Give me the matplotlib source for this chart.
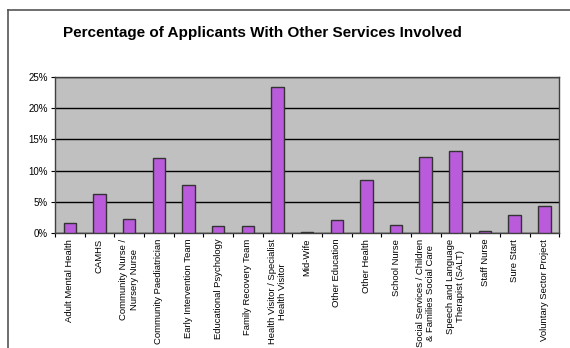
import numpy as np
import matplotlib
matplotlib.use('Agg')
import matplotlib.pyplot as plt
from matplotlib.lines import Line2D
from matplotlib.ticker import FuncFormatter, MultipleLocator

plt.rcParams['font.family'] = ['Liberation Sans', 'DejaVu Sans']

# services and share of applicants (%)
services = [
    'Adult Mental Health',
    'CAMHS',
    'Community Nurse /\nNursery Nurse',
    'Community Paediatrician',
    'Early Intervention Team',
    'Educational Psychology',
    'Family Recovery Team',
    'Health Visitor / Specialist\nHealth Visitor',
    'Mid-Wife',
    'Other Education',
    'Other Health',
    'School Nurse',
    'Social Services / Children\n& Families Social Care',
    'Speech and Language\nTherapist (SALT)',
    'Staff Nurse',
    'Sure Start',
    'Voluntary Sector Project',
]
percent = [1.6, 6.3, 2.3, 12.0, 7.7, 1.2, 1.2, 23.3, 0.15,
           2.1, 8.5, 1.3, 12.2, 13.1, 0.3, 2.9, 4.4]

fig = plt.figure(figsize=(5.7, 3.48), dpi=100)
ax = fig.add_axes([0.0965, 0.3296, 0.8845, 0.45])

x = np.arange(len(services))
ax.bar(x, percent, width=0.42, color='#B95BDB', edgecolor='#333333',
       linewidth=1.0, zorder=3)

ax.set_facecolor('#C0C0C0')
ax.set_xlim(-0.5, len(services) - 0.5)
ax.set_ylim(0, 25)
ax.yaxis.set_major_locator(MultipleLocator(5))
ax.yaxis.set_major_formatter(FuncFormatter(lambda v, p: '%d%%' % v))
ax.grid(axis='y', color='black', linewidth=1.0, zorder=1)

# labels sit at the bar centres, tick marks at the category boundaries
ax.set_xticks(x)
ax.set_xticklabels(services, rotation=90, ha='center', va='top',
                   multialignment='center', fontsize=6.8)
ax.set_xticks(np.arange(len(services) + 1) - 0.5, minor=True)
ax.tick_params(axis='x', which='major', length=0, pad=4)
ax.tick_params(axis='x', which='minor', length=3, width=0.8, direction='out')
ax.tick_params(axis='y', labelsize=7, length=3, width=0.8, pad=2)

for s in ax.spines.values():
    s.set_color('#404040')
    s.set_linewidth(1.0)

fig.text(0.46, 0.905, 'Percentage of Applicants With Other Services Involved',
         ha='center', va='center', fontsize=11, fontweight='bold')

# chart frame (left and top edges)
fig.add_artist(Line2D([8 / 570, 8 / 570], [0, 1 - 10 / 348],
                      transform=fig.transFigure, color='#555555', lw=1.2))
fig.add_artist(Line2D([8 / 570, 1], [1 - 10 / 348, 1 - 10 / 348],
                      transform=fig.transFigure, color='#555555', lw=1.2))

fig.savefig('out.png', dpi=100)
